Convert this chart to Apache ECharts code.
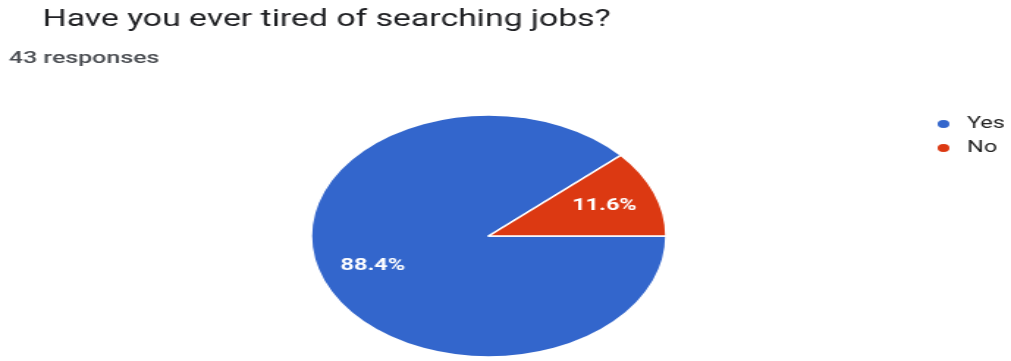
<!DOCTYPE html>
<html>
<head>
<meta charset="utf-8">
<script src="https://cdn.jsdelivr.net/npm/echarts@6/dist/echarts.min.js"></script>
<style>
  html, body { margin: 0; padding: 0; background: #fff; overflow: hidden; }
  #wrap { width: 1011px; height: 361px; overflow: hidden; }
  /* chart is laid out in a narrower box and widened horizontally */
  #chart { width: 689px; height: 361px; transform: scaleX(1.4674); transform-origin: 0 0; }
</style>
</head>
<body>
<div id="wrap"><div id="chart"></div></div>
<script>
const questionTitle = 'Have you ever tired of searching jobs?';
const responseCount = 43;
const categories = ['Yes', 'No'];
const counts = [38, 5];
const sliceColors = ['#3366cc', '#dc3912'];

const pieData = categories.map((name, i) => ({ name, value: counts[i] }));

const chart = echarts.init(document.getElementById('chart'));
chart.setOption({
  animation: false,
  color: sliceColors,
  title: [
    {
      text: questionTitle,
      left: 24, top: 4,
      textStyle: { fontFamily: 'Roboto', fontSize: 23, fontWeight: 'normal', color: '#202124' }
    },
    {
      text: responseCount + ' responses',
      left: 1, top: 45,
      textStyle: { fontFamily: 'Roboto', fontSize: 17, fontWeight: 500, color: '#4a4d52' }
    }
  ],
  legend: {
    orient: 'vertical',
    left: 632, top: 111,
    data: categories,
    icon: 'circle',
    itemWidth: 10, itemHeight: 10,
    itemGap: 8,
    textStyle: { fontFamily: 'Roboto', fontSize: 16, color: '#222', padding: [0, 0, 0, 6] }
  },
  series: [
    {
      type: 'pie',
      center: [333, 236],
      radius: [0, 121],
      startAngle: 0,
      clockwise: true,
      data: pieData,
      label: { show: false },
      labelLine: { show: false },
      itemStyle: { borderColor: '#fff', borderWidth: 1.5 },
      emphasis: { disabled: true }
    },
    {
      // transparent ring used only to place the percentage labels
      type: 'pie',
      center: [333, 236],
      radius: [42, 121],
      startAngle: 0,
      clockwise: true,
      silent: true,
      data: pieData,
      itemStyle: { color: 'rgba(0,0,0,0)' },
      labelLine: { show: false },
      label: {
        show: true,
        position: 'inside',
        formatter: p => p.percent.toFixed(1) + '%',
        fontFamily: 'Roboto', fontSize: 16, fontWeight: 'bold', color: '#fff'
      },
      emphasis: { disabled: true }
    }
  ]
});
</script>
</body>
</html>
